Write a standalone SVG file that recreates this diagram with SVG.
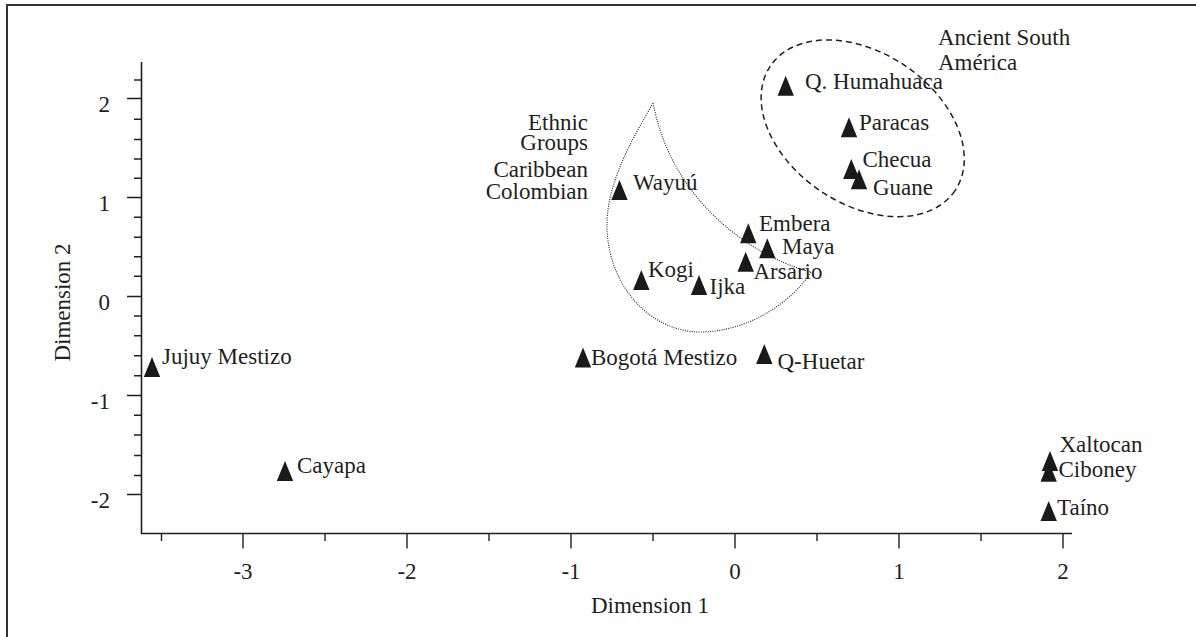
<svg xmlns="http://www.w3.org/2000/svg" width="1196" height="637" viewBox="0 0 1196 637">
<style>
text{font-family:'Liberation Serif','Times New Roman',Times,'DejaVu Serif',serif;font-size:23px;fill:#231f20}
.ax{stroke:#231f20;stroke-width:1.6;fill:none}
.tk{stroke:#231f20;stroke-width:1.4}
.yl{text-anchor:end}
.xl{text-anchor:middle}
.tri{fill:#1a1a1a}
</style>
<defs>
<path id="tri" d="M0,-20 L8.2,0 L-8.2,0 Z"/>
</defs>
<rect x="7" y="5" width="1220" height="660" fill="none" stroke="#333" stroke-width="2"/>
<g id="axes">
<path class="ax" d="M141.5,62 V533.5 H1072"/>
<g class="tk">
<path d="M127,98.5 H141.5 M127,197.5 H141.5 M127,296.5 H141.5 M127,395.5 H141.5 M127,494.5 H141.5"/>
<path d="M134,80 H141.5 M134,119.3 H141.5 M134,139.5 H141.5 M134,159 H141.5 M134,178.3 H141.5 M134,217.3 H141.5 M134,237.3 H141.5 M134,256.7 H141.5 M134,276.3 H141.5 M134,316 H141.5 M134,335.7 H141.5 M134,355.7 H141.5 M134,375.7 H141.5 M134,415.3 H141.5 M134,435 H141.5 M134,455.5 H141.5 M134,475.5 H141.5"/>
<path d="M243,533.5 V548.5 M407,533.5 V548.5 M571,533.5 V548.5 M735,533.5 V548.5 M899,533.5 V548.5 M1063,533.5 V548.5"/>
<path d="M161.5,533.5 V541 M325,533.5 V541 M489,533.5 V541 M653,533.5 V541 M817,533.5 V541 M981,533.5 V541"/>
</g>
<text class="yl" x="110" y="111.5">2</text>
<text class="yl" x="110" y="210.5">1</text>
<text class="yl" x="110" y="309.5">0</text>
<text class="yl" x="110" y="408.5">-1</text>
<text class="yl" x="110" y="507.5">-2</text>
<text class="xl" x="243" y="579">-3</text>
<text class="xl" x="407" y="579">-2</text>
<text class="xl" x="571" y="579">-1</text>
<text class="xl" x="735" y="579">0</text>
<text class="xl" x="899" y="579">1</text>
<text class="xl" x="1063" y="579">2</text>
<text class="xl" x="650" y="612.5">Dimension 1</text>
<text class="xl" transform="translate(70,302.5) rotate(-90)">Dimension 2</text>
</g>
<g id="connectors">
<ellipse id="ancient-south-america-group" cx="862.7" cy="128.3" rx="111.4" ry="75.6" transform="rotate(34 862.7 128.3)" fill="none" stroke="#231f20" stroke-width="1.5" stroke-dasharray="6 4"/>
<path id="caribbean-colombian-group" d="M653,103 C635,135 607,180 607,225 C607,285 650,332 700,332 C745,332 790,305 811,272 C770,262 675,215 653,103 Z" fill="none" stroke="#231f20" stroke-width="1.1" stroke-dasharray="1 1.3"/>
</g>
<g id="group-labels">
<text x="588" y="129.5" text-anchor="end">Ethnic</text>
<text x="588" y="150" text-anchor="end">Groups</text>
<text x="588" y="177" text-anchor="end">Caribbean</text>
<text x="588" y="198.5" text-anchor="end">Colombian</text>
<text x="938" y="45.3">Ancient South</text>
<text x="938" y="70">América</text>
</g>
<g id="jujuy-mestizo"><use href="#tri" class="tri" x="152" y="377"/><text x="162" y="363.5">Jujuy Mestizo</text></g>
<g id="cayapa"><use href="#tri" class="tri" x="285" y="481"/><text x="297" y="472.5">Cayapa</text></g>
<g id="bogota-mestizo"><use href="#tri" class="tri" x="583" y="367.5"/><text x="591" y="364.5">Bogotá Mestizo</text></g>
<g id="q-huetar"><use href="#tri" class="tri" x="764.3" y="364"/><text x="777.5" y="368.5">Q-Huetar</text></g>
<g id="xaltocan"><use href="#tri" class="tri" x="1050" y="471"/><text x="1059.5" y="452">Xaltocan</text></g>
<g id="ciboney"><use href="#tri" class="tri" x="1048.7" y="481.7"/><text x="1058.5" y="477">Ciboney</text></g>
<g id="taino"><use href="#tri" class="tri" x="1048.7" y="521"/><text x="1057" y="515">Taíno</text></g>
<g id="q-humahuaca"><use href="#tri" class="tri" x="785.7" y="95.7"/><text x="805" y="88.5">Q. Humahuaca</text></g>
<g id="paracas"><use href="#tri" class="tri" x="849" y="137.3"/><text x="859" y="129.5">Paracas</text></g>
<g id="checua"><use href="#tri" class="tri" x="851.3" y="179"/><text x="862.5" y="167">Checua</text></g>
<g id="guane"><use href="#tri" class="tri" x="859" y="189.3"/><text x="873" y="194.5">Guane</text></g>
<g id="embera"><use href="#tri" class="tri" x="748.3" y="243.3"/><text x="759" y="231">Embera</text></g>
<g id="maya"><use href="#tri" class="tri" x="767.3" y="258.3"/><text x="782" y="253.5">Maya</text></g>
<g id="arsario"><use href="#tri" class="tri" x="745.7" y="271.7"/><text x="753.5" y="278.5">Arsario</text></g>
<g id="ijka"><use href="#tri" class="tri" x="699" y="295"/><text x="709.5" y="293.5">Ijka</text></g>
<g id="kogi"><use href="#tri" class="tri" x="641.3" y="290"/><text x="648" y="277">Kogi</text></g>
<g id="wayuu"><use href="#tri" class="tri" x="619.5" y="200"/><text x="633" y="190">Wayuú</text></g>
</svg>
